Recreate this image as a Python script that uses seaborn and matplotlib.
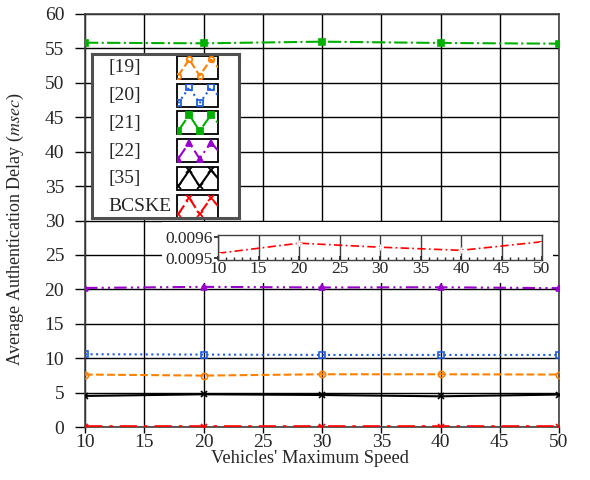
import numpy as np
import pandas as pd
import matplotlib
matplotlib.use("Agg")
import matplotlib.pyplot as plt
import seaborn as sns
from matplotlib.patches import Rectangle
from matplotlib.ticker import MultipleLocator

speeds = [10, 20, 30, 40, 50]
labels = ["[19]", "[20]", "[21]", "[22]", "[35]", "BCSKE"]
d19 = [7.62, 7.47, 7.66, 7.66, 7.62]
d20 = [10.57, 10.52, 10.47, 10.47, 10.47]
d21 = [55.83, 55.74, 55.98, 55.79, 55.69]
d22 = [20.2, 20.36, 20.27, 20.3, 20.17]
d35 = [4.51, 4.75, 4.65, 4.46, 4.71]
bcske = [0.009521, 0.009569, 0.009550, 0.009535, 0.009576]

series = [d19, d20, d21, d22, d35, bcske]
colors = ["#ff8000", "#1f5fe0", "#00b000", "#9900cc", "#000000", "#ff0000"]
styles = ["--", ":", "-.", (0, (6, 2, 1, 2, 1, 2)), "-", (0, (5, 2, 1, 2))]
markers = ["o", "s", "s", "^", "x", "x"]
fills = ["none", "none", "full", "full", "full", "full"]
widths = [1.5, 1.5, 1.5, 1.5, 1.5, 2.5]

W, H = 590, 480


def px(x0, y0, x1, y1):
    # pixel box (top-left origin) -> figure fraction rect
    return [x0 / W, 1 - y1 / H, (x1 - x0) / W, (y1 - y0) / H]


sns.set_theme(style="white")
plt.rcParams["font.family"] = ["Liberation Serif", "DejaVu Serif"]
plt.rcParams["mathtext.fontset"] = "stix"

fig = plt.figure(figsize=(5.9, 4.8), dpi=100)
ax = fig.add_axes(px(85, 14, 559, 427))

for vals, c, ls, m, fs, lw in zip(series, colors, styles, markers, fills, widths):
    df = pd.DataFrame({"speed": speeds, "delay": vals})
    sns.lineplot(data=df, x="speed", y="delay", ax=ax, color=c, linestyle=ls,
                 marker=m, markersize=4.5, fillstyle=fs, markeredgecolor=c,
                 markeredgewidth=1.2, linewidth=lw, legend=False, zorder=3)

ax.set_xlim(10, 50)
ax.set_ylim(0, 60)
ax.xaxis.set_major_locator(MultipleLocator(5))
ax.yaxis.set_major_locator(MultipleLocator(5))
ax.grid(True, color="black", linewidth=1.0)
ax.set_axisbelow(True)
for s in ax.spines.values():
    s.set_color("#404040")
    s.set_linewidth(1.2)
ax.tick_params(axis="both", direction="out", width=1, color="black",
               left=True, bottom=True)
ax.tick_params(axis="x", labelsize=14, pad=1, length=4)
ax.tick_params(axis="y", labelsize=14, pad=8, length=7)
ax.set_xlabel("Vehicles' Maximum Speed", fontsize=13.3, labelpad=1)
ax.xaxis.set_label_coords(0.475, -0.055)
ax.set_ylabel(r"Average Authentication Delay ($\mathit{msec}$)", fontsize=13)
ax.yaxis.set_label_coords(-0.125, 0.48)

# legend drawn by hand: label on the left, zigzag sample in a small box on the right
lg = fig.add_axes(px(92, 54, 239, 218), zorder=7)
lg.set_xlim(0, 147)
lg.set_ylim(164, 0)
lg.set_xticks([])
lg.set_yticks([])
lg.set_facecolor("white")
for s in lg.spines.values():
    s.set_color("#505050")
    s.set_linewidth(2.2)
zx = np.array([0.03, 0.3, 0.55, 0.83, 1.0])
zy = np.array([0.85, 0.15, 0.85, 0.15, 0.5])
for i, (lab, c, ls, m, fs) in enumerate(zip(labels, colors, styles, markers, fills)):
    top = 2 + i * 27.7
    box = Rectangle((85, top), 41, 23, facecolor="white", edgecolor="black", linewidth=1.3)
    lg.add_patch(box)
    ln = lg.plot(85 + zx * 41, top + zy * 23, color=c, linestyle=ls, linewidth=1.5)[0]
    mk = lg.plot(85 + zx[:4] * 41, top + zy[:4] * 23, color=c, linestyle="none", marker=m,
                 markersize=4, fillstyle=fs, markeredgewidth=1.3)[0]
    ln.set_clip_path(box)
    mk.set_clip_path(box)
    lg.text(16, top + 12, lab, fontsize=14, ha="left", va="center")

# white backing behind the inset
fig.patches.append(Rectangle((162 / W, 1 - 283 / H), 391 / W, 61 / H, transform=fig.transFigure,
                             facecolor="white", edgecolor="none", zorder=5))

ins = fig.add_axes(px(218, 235, 542, 260), zorder=6)
sns.lineplot(x=speeds, y=bcske, ax=ins, color=colors[5], linestyle=styles[5],
             marker="+", markersize=4, linewidth=1.2, legend=False)
ins.set_xlim(10, 50)
ins.set_ylim(0.009489, 0.009608)
ins.xaxis.set_major_locator(MultipleLocator(5))
ins.xaxis.set_minor_locator(MultipleLocator(1))
ins.set_yticks([0.0095, 0.0096])
ins.set_yticklabels(["0.0095", "0.0096"])
ins.grid(True, axis="x", color="#404040", linewidth=1.0)
ins.set_axisbelow(True)
for s in ins.spines.values():
    s.set_color("#404040")
    s.set_linewidth(1.0)
ins.tick_params(axis="x", which="major", direction="in", length=3, labelsize=12.5, pad=1, bottom=True)
ins.tick_params(axis="x", which="minor", direction="in", length=2, bottom=True)
ins.tick_params(axis="y", direction="out", length=3, labelsize=12.5, pad=1, left=True)
ins.set_xlabel("")
ins.set_ylabel("")

fig.savefig("out.png", dpi=100)
